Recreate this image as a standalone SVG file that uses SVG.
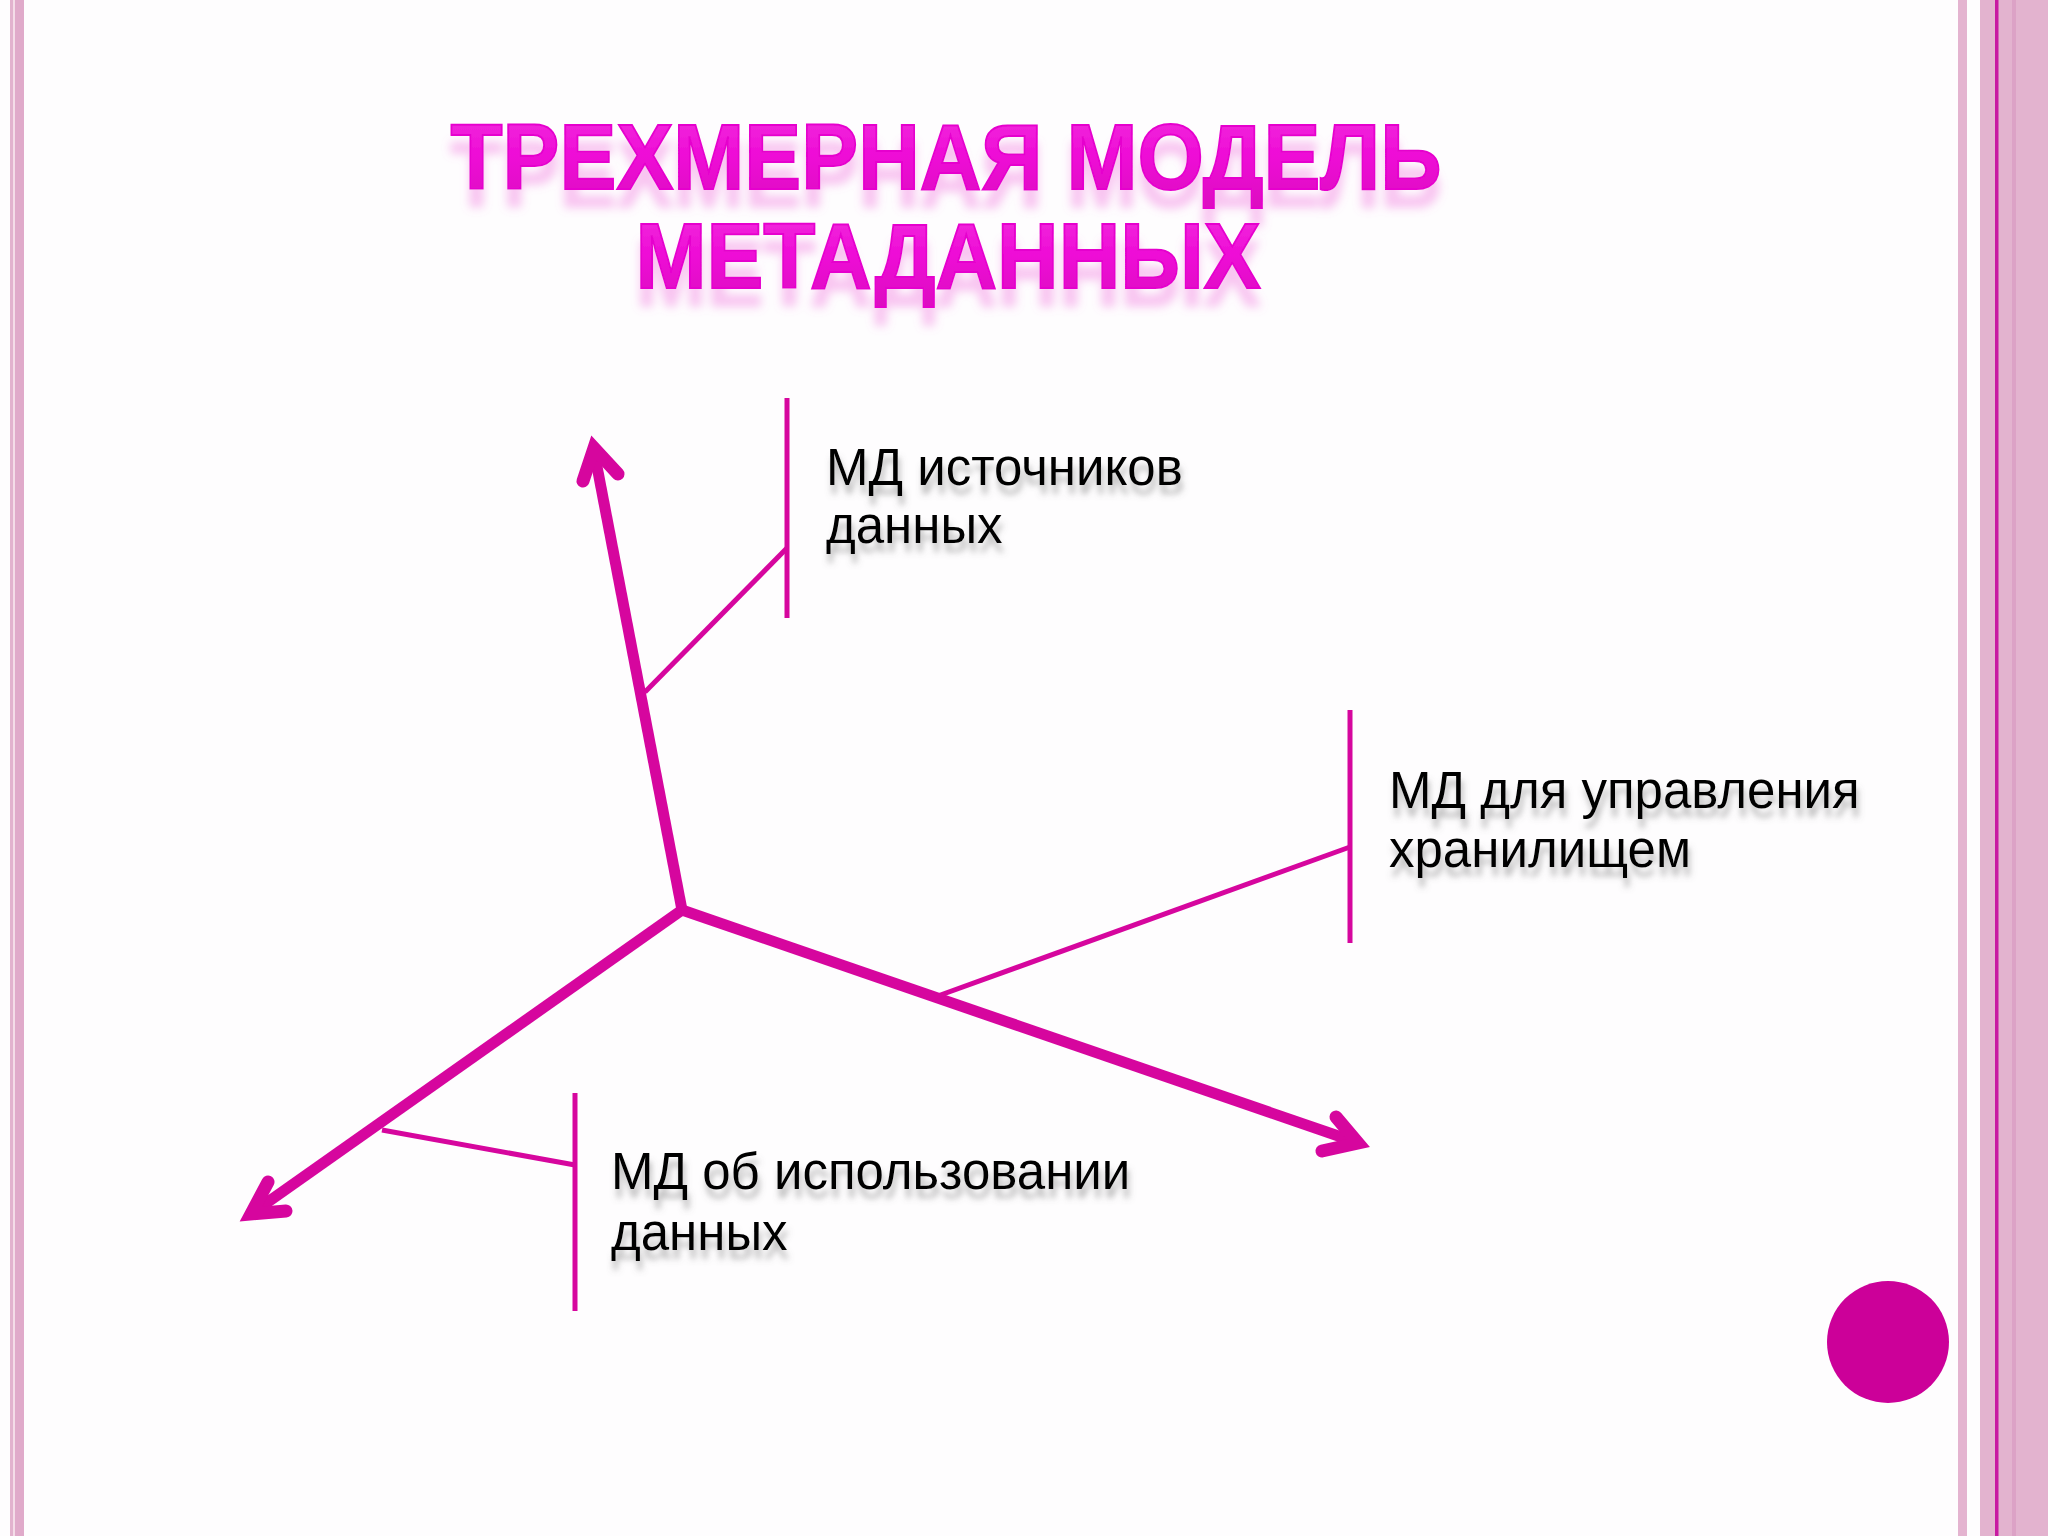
<svg xmlns="http://www.w3.org/2000/svg" width="2048" height="1536" viewBox="0 0 2048 1536">
  <defs>
    <style>
      .title { font-family: "Liberation Sans", Arial, sans-serif; font-weight: bold; font-size: 92px; text-anchor: middle; fill: url(#titleFill); stroke: #E606CE; stroke-width: 2; filter: url(#titleShadow); }
      .label { font-family: "Liberation Sans", Arial, sans-serif; font-size: 51px; fill: #000000; filter: url(#labelShadow); }
      .axis { stroke: #D6069E; stroke-width: 11; fill: none; stroke-linecap: butt; }
      .head { stroke: #D6069E; stroke-width: 13; fill: none; stroke-linecap: round; stroke-linejoin: miter; stroke-miterlimit: 10; }
      .conn { stroke: #D6069E; stroke-width: 5; fill: none; }
      .bar { stroke: #D6069E; stroke-width: 5; fill: none; }
    </style>
    <linearGradient id="titleFill" x1="0" y1="0" x2="0" y2="1">
      <stop offset="0" stop-color="#F232DE"/>
      <stop offset="0.5" stop-color="#EE0AD6"/>
      <stop offset="1" stop-color="#DC0AC0"/>
    </linearGradient>
    <filter id="titleShadow" x="-5%" y="-20%" width="110%" height="180%">
      <feDropShadow dx="0" dy="18" stdDeviation="5" flood-color="#F070DC" flood-opacity="0.4"/>
    </filter>
    <filter id="labelShadow" x="-5%" y="-20%" width="110%" height="180%">
      <feDropShadow dx="2" dy="9" stdDeviation="3" flood-color="#707070" flood-opacity="0.5"/>
    </filter>
  </defs>

  <!-- background -->
  <rect x="0" y="0" width="2048" height="1536" fill="#FEFDFE"/>

  <!-- left border -->
  <rect x="10" y="0" width="3" height="1536" fill="#E2B2CE"/>
  <rect x="13" y="0" width="2" height="1536" fill="#F4DCE8"/>
  <rect x="15" y="0" width="9" height="1536" fill="#E0AACA"/>

  <!-- right border -->
  <rect x="1958" y="0" width="9" height="1536" fill="#E4B4D0"/>
  <rect x="1980" y="0" width="68" height="1536" fill="#E3B3CF"/>
  <rect x="1995" y="0" width="3.5" height="1536" fill="#C81AA2"/>
  <rect x="2012" y="0" width="4" height="1536" fill="#DCA2C6"/>

  <!-- title -->
  <g id="title">
    <text class="title" x="946" y="189" textLength="991" lengthAdjust="spacingAndGlyphs">ТРЕХМЕРНАЯ МОДЕЛЬ</text>
    <text class="title" x="948" y="288" textLength="625" lengthAdjust="spacingAndGlyphs">МЕТАДАННЫХ</text>
  </g>

  <!-- connectors -->
  <g id="connectors">
    <line class="axis" x1="682" y1="910" x2="595" y2="456"/>
    <polyline class="head" points="583,481 594,448 618,474"/>
    <line class="axis" x1="682" y1="910" x2="258" y2="1209"/>
    <polyline class="head" points="268,1182 251,1214 286,1211"/>
    <line class="axis" x1="682" y1="910" x2="1350" y2="1140"/>
    <polyline class="head" points="1336,1117 1358,1143 1322,1151"/>

    <line class="conn" x1="645" y1="692" x2="787" y2="548"/>
    <line class="bar" x1="787" y1="398" x2="787" y2="618"/>

    <line class="conn" x1="935" y1="997" x2="1350" y2="847"/>
    <line class="bar" x1="1350" y1="710" x2="1350" y2="943"/>

    <line class="conn" x1="382" y1="1130" x2="575" y2="1165"/>
    <line class="bar" x1="575" y1="1093" x2="575" y2="1311"/>
  </g>

  <!-- labels -->
  <g id="node-sources">
    <text class="label" x="826" y="485">МД источников</text>
    <text class="label" x="826" y="543">данных</text>
  </g>

  <g id="node-management">
    <text class="label" x="1389" y="808">МД для управления</text>
    <text class="label" x="1389" y="867">хранилищем</text>
  </g>

  <g id="node-usage">
    <text class="label" x="611" y="1189">МД об использовании</text>
    <text class="label" x="611" y="1250">данных</text>
  </g>

  <!-- decorative circle -->
  <g id="circle">
    <circle cx="1888" cy="1342" r="61" fill="#CC0099"/>
  </g>
</svg>
